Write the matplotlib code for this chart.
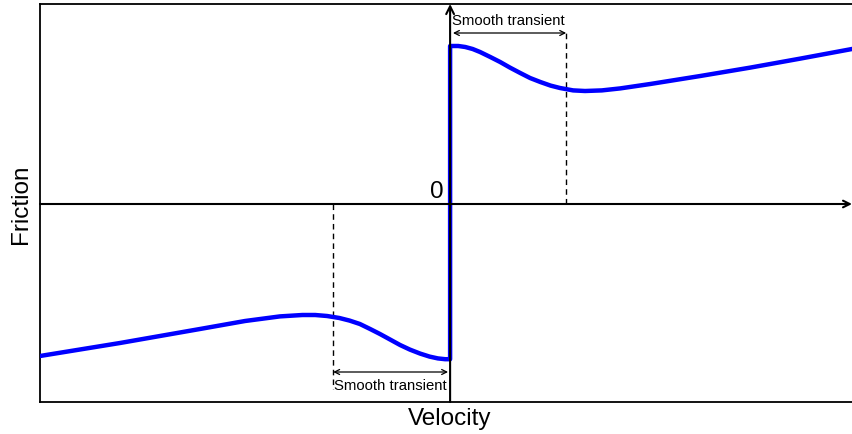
import matplotlib
matplotlib.use("Agg")
import matplotlib.pyplot as plt

plt.rcParams['font.family'] = ['Liberation Sans', 'DejaVu Sans']

# Negative-velocity branch (velocity, friction)
neg_v = [-1.0, -0.805, -0.610, -0.50, -0.415, -0.36, -0.329, -0.30, -0.27, -0.245,
         -0.220, -0.195, -0.171, -0.146, -0.122, -0.098, -0.073, -0.05, -0.03, -0.012, -0.002]
neg_f = [-0.76, -0.695, -0.625, -0.585, -0.562, -0.555, -0.555, -0.56, -0.57, -0.583,
         -0.60, -0.625, -0.65, -0.678, -0.705, -0.728, -0.748, -0.763, -0.772, -0.776, -0.776]
# Positive-velocity branch
pos_v = [0.0, 0.02, 0.037, 0.055, 0.073, 0.098, 0.122, 0.146, 0.171, 0.195, 0.220, 0.245,
         0.268, 0.30, 0.329, 0.37, 0.415, 0.488, 0.610, 0.732, 0.854, 0.980]
pos_f = [0.79, 0.79, 0.785, 0.775, 0.76, 0.735, 0.71, 0.682, 0.655, 0.63, 0.61, 0.592,
         0.58, 0.568, 0.565, 0.568, 0.578, 0.600, 0.640, 0.682, 0.727, 0.775]

# Transient markers
upper_transient = (0.007, 0.283)   # velocity span of upper transient
lower_transient = (-0.285, -0.005)

fig = plt.figure(figsize=(8.52, 4.35), dpi=100)
ax = fig.add_axes([40/852, 1-403/435, 1-40/852, 398/435])

v = neg_v + [0.0, 0.0] + pos_v
f = neg_f + [neg_f[-1], pos_f[0]] + pos_f
ax.plot(v, f, color='#0000ff', lw=3.2, solid_joinstyle='round', zorder=3)

ax.set_xlim(-1.0, 0.98)
ax.set_ylim(-0.99, 1.0)

# coordinate axes with arrows
ax.annotate('', xy=(0.98, 0), xytext=(-1.0, 0),
            arrowprops=dict(arrowstyle='->', color='black', lw=1.5, shrinkA=0, shrinkB=0,
                            mutation_scale=12), zorder=4)
ax.annotate('', xy=(0, 1.0), xytext=(0, -0.99),
            arrowprops=dict(arrowstyle='->', color='black', lw=1.5, shrinkA=0, shrinkB=0,
                            mutation_scale=14), zorder=4)
ax.text(-0.033, 0.012, '0', fontsize=17.5, ha='center', va='bottom')

# upper transient
ax.plot([upper_transient[1]]*2, [0, 0.875], color='black', lw=1, ls=(0, (4, 3)))
ax.annotate('', xy=(upper_transient[1], 0.855), xytext=(upper_transient[0], 0.855),
            arrowprops=dict(arrowstyle='<->', color='black', lw=0.9, shrinkA=0, shrinkB=0,
                            mutation_scale=9))
ax.text(sum(upper_transient)/2 - 0.003, 0.922, 'Smooth transient', fontsize=10.7, ha='center', va='center')

# lower transient
ax.plot([lower_transient[0]]*2, [0, -0.925], color='black', lw=1, ls=(0, (4, 3)))
ax.annotate('', xy=(lower_transient[1], -0.84), xytext=(lower_transient[0], -0.84),
            arrowprops=dict(arrowstyle='<->', color='black', lw=0.9, shrinkA=0, shrinkB=0,
                            mutation_scale=9))
ax.text(sum(lower_transient)/2, -0.905, 'Smooth transient', fontsize=10.7, ha='center', va='center')

ax.set_xticks([])
ax.set_yticks([])
ax.spines['right'].set_visible(False)
for s in ['left', 'top', 'bottom']:
    ax.spines[s].set_linewidth(1.3)

ax.set_xlabel('Velocity', fontsize=17.5, labelpad=5)
ax.xaxis.set_label_coords(0.505, -0.012, transform=ax.transAxes)
ax.xaxis.label.set_va('top')
ax.set_ylabel('Friction', fontsize=17.5, labelpad=6)

fig.savefig('out.png', dpi=100)
